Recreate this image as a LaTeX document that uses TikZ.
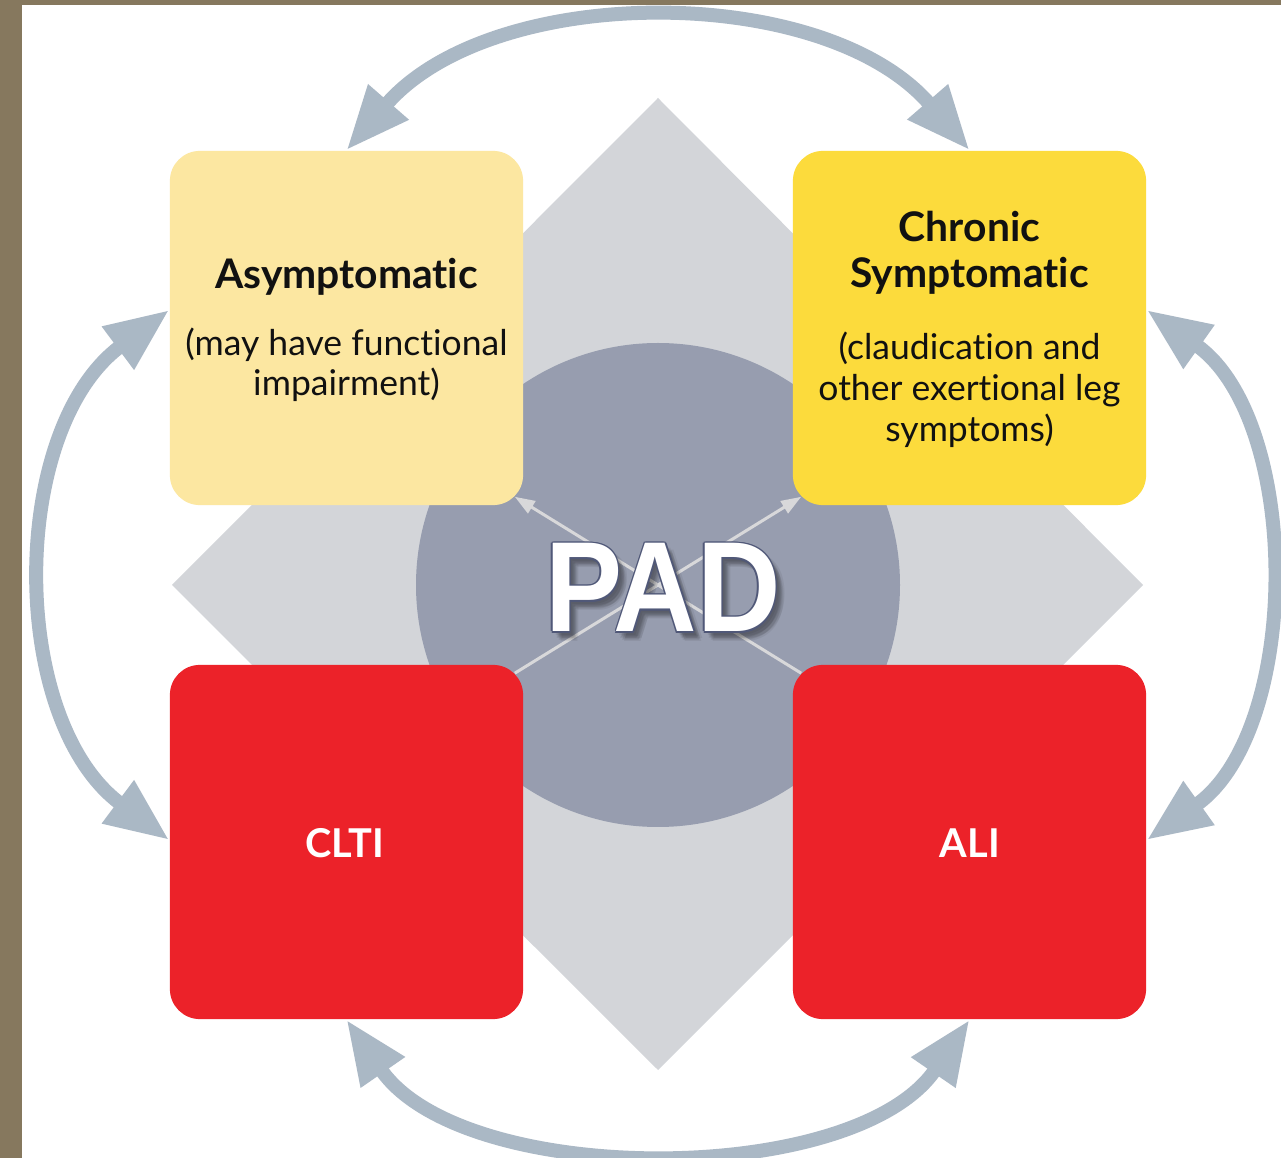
\documentclass[tikz,border=0pt]{standalone}
\usepackage{fontspec}
\usepackage{graphicx}
\setmainfont{Lato}[Ligatures=NoCommon]
\newfontfamily\padfont{Liberation Sans}
\usetikzlibrary{arrows.meta}
\definecolor{framecol}{RGB}{134,120,94}
\definecolor{diamcol}{RGB}{211,213,217}
\definecolor{disccol}{RGB}{151,157,175}
\definecolor{asymcol}{RGB}{252,231,161}
\definecolor{chroncol}{RGB}{252,219,60}
\definecolor{redcol}{RGB}{236,34,41}
\definecolor{arccol}{RGB}{170,184,197}
\definecolor{thincol}{RGB}{216,216,218}
\definecolor{padline}{RGB}{80,88,120}
\definecolor{txtcol}{RGB}{17,17,17}
\newcommand\padword{\scalebox{0.9}[1]{\padfont\bfseries PAD}}
\begin{document}
\begin{tikzpicture}[x=0.01cm,y=-0.01cm,
  box/.style={rounded corners=0.3cm, minimum width=3.53cm, minimum height=3.54cm, inner sep=0pt},
  ttl/.style={font=\fontsize{11.6}{13}\selectfont\bfseries, anchor=base, inner sep=0pt, text=txtcol},
  bdy/.style={font=\fontsize{10.1}{12}\selectfont, anchor=base, inner sep=0pt, text=txtcol},
  redttl/.style={font=\fontsize{11.3}{13}\selectfont\bfseries, anchor=base, inner sep=0pt, text=white},
  bigarc/.style={draw=arccol, line width=0.14cm,
    {Triangle[length=0.64cm,width=0.5cm]}-{Triangle[length=0.64cm,width=0.5cm]}},
  thinarrow/.style={draw=thincol, line width=0.03cm, -{Triangle[length=0.2cm,width=0.14cm]}},
  padtext/.style={font=\fontsize{36.5}{40}\selectfont, anchor=base, inner sep=0pt}]
\useasboundingbox (0,0) rectangle (1281,1158);
\fill[white] (0,0) rectangle (1281,1158);
\fill[framecol] (0,0) rectangle (22,1158);
\fill[framecol] (0,0) rectangle (1281,5);
% background diamond and disc
\fill[diamcol] (658,98) -- (1143,585) -- (658,1070) -- (172,585) -- cycle;
\fill[disccol] (658,585) circle [radius=242];
% boxes
\node[box, fill=asymcol] (asym) at (346.5,328) {};
\node[box, fill=chroncol] (chron) at (969.5,328) {};
\node[box, fill=redcol] (clti) at (346.5,842) {};
\node[box, fill=redcol] (ali) at (969.5,842) {};
% thin diagonal arrows
\draw[thinarrow] ([shift={(-9,9)}]clti.north east) -- ([shift={(9,-9)}]chron.south west);
\draw[thinarrow] ([shift={(9,9)}]ali.north west) -- ([shift={(-9,-9)}]asym.south east);
% big curved arrows
\draw[bigarc] (asym.north) .. controls (493,-18) and (824,-18) .. (chron.north);
\draw[bigarc] ([shift={(0,-18)}]asym.west) .. controls (8,430) and (8,720) .. ([shift={(0,-2)}]clti.west);
\draw[bigarc] ([shift={(0,-18)}]chron.east) .. controls (1302,420) and (1302,730) .. ([shift={(0,-2)}]ali.east);
\draw[bigarc] (clti.south) .. controls (463,1188) and (854,1188) .. (ali.south);
% box texts
\node[ttl] (asymt) at (346.5,289) {Asymptomatic};
\node[bdy] (asymb1) at (346.5,356) {(may have functional};
\node[bdy] (asymb2) at (346.5,396) {impairment)};
\node[ttl] (chront1) at (969.5,242) {Chronic};
\node[ttl] (chront2) at (969.5,288) {Symptomatic};
\node[bdy] (chronb1) at (969.5,360) {(claudication and};
\node[bdy] (chronb2) at (969.5,401) {other exertional leg};
\node[bdy] (chronb3) at (969.5,442) {symptoms)};
\node[redttl] (cltit) at (345,857) {CLTI};
\node[redttl] (alit) at (970,857) {ALI};
% PAD with shadow and outline
\foreach \dx/\dy [count=\i] in {3/4,5/6,7/8,4/7,6/5,8/10,6/9,9/7}
  \node[padtext, text=black, opacity=0.06] (padsh\i) at (663+\dx,632+\dy) {\padword};
\foreach \dx/\dy [count=\i] in {-1.6/0,1.6/0,0/-1.6,0/1.6,-1.1/-1.1,1.1/1.1,-1.1/1.1,1.1/-1.1}
  \node[padtext, text=padline] (padol\i) at (663+\dx,632+\dy) {\padword};
\node[padtext, text=white] (pad) at (663,632) {\padword};
\end{tikzpicture}
\end{document}
